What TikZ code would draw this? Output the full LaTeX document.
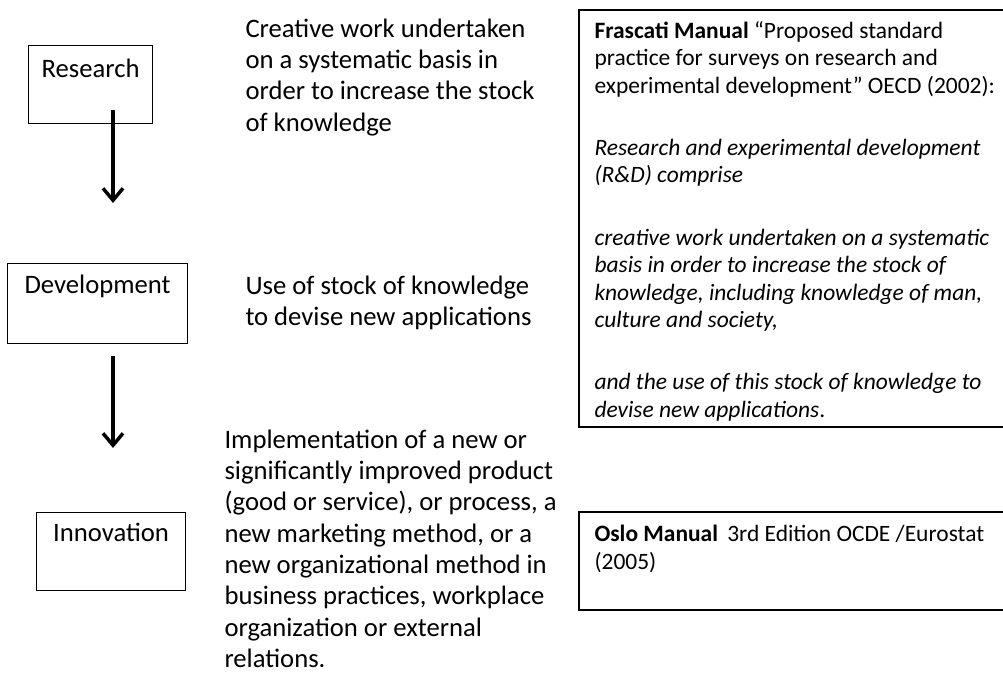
\documentclass[tikz,border=0pt]{standalone}
\usepackage{fontspec}
\setmainfont{Carlito}
\usetikzlibrary{arrows.meta}

\tikzset{every picture/.style={line width=0.75pt}}
\tikzset{
  stage/.style={draw, line width=0.9pt, anchor=north west, inner xsep=0pt, inner ysep=0pt, align=center, font=\fontsize{20}{24}\selectfont},
  desc/.style={anchor=north west, inner sep=0pt, align=left, font=\fontsize{20}{23.5}\selectfont},
  manual/.style={anchor=north west, inner sep=0pt, align=left, font=\fontsize{17.6}{20.6}\selectfont},
  frame/.style={line width=1.3pt},
  flow/.style={line width=3pt, -{Straight Barb[length=9pt,width=15pt,line width=2.6pt]}}
}

\begin{document}
\begin{tikzpicture}[x=0.75pt,y=0.75pt,yscale=-1,xscale=1]
        \useasboundingbox (0,0) rectangle (1003,684);

        %Shape: Rectangle [id:research]
        \node [stage, text width=93pt, text height=24pt, text depth=34.5pt] (research) at (28,45) {Research};
        %Shape: Rectangle [id:development]
        \node [stage, text width=135pt, text height=22.5pt, text depth=37.5pt] (development) at (7,263) {Development};
        %Shape: Rectangle [id:innovation]
        \node [stage, text width=111.75pt, text height=21.75pt, text depth=36.75pt] (innovation) at (36,512) {Innovation};

        %Straight Lines [id:flow1]
        \coordinate (f1a) at (113,110);
        \coordinate (f1b) at (113,203);
        \draw [flow] (f1a) -- (f1b) ;
        %Straight Lines [id:flow2]
        \coordinate (f2a) at (113,356);
        \coordinate (f2b) at (113,448);
        \draw [flow] (f2a) -- (f2b) ;

        % Text Node
        \node [desc] (descres) at (245,18) {Creative work undertaken\\on a systematic basis in\\order to increase the stock\\of knowledge};
        % Text Node
        \node [desc] (descdev) at (245,275) {Use of stock of knowledge\\to devise new applications};
        % Text Node
        \node [desc] (descinn) at (224,429) {Implementation of a new or\\significantly improved product\\(good or service), or process, a\\new marketing method, or a\\new organizational method in\\business practices, workplace\\organization or external\\relations.};

        %Shape: Frame [id:frascati]
        \draw [frame] (1003,10) -- (579,10) -- (579,427) -- (1003,427) ;
        % Text Node
        \node [manual] (frascati) at (594,21) {\textbf{Frascati Manual} “Proposed standard\\practice for surveys on research and\\experimental development” OECD (2002):\\[26pt]
        \textit{Research and experimental development}\\\textit{(R\&D) comprise}\\[26pt]
        \textit{creative work undertaken on a systematic}\\\textit{basis in order to increase the stock of}\\\textit{knowledge, including knowledge of man,}\\\textit{culture and society,}\\[26pt]
        \textit{and the use of this stock of knowledge to}\\\textit{devise new applications}.};

        %Shape: Frame [id:oslo]
        \draw [frame] (1003,512) -- (579,512) -- (579,610) -- (1003,610) ;
        % Text Node
        \node [manual] (oslo) at (594,525) {\textbf{Oslo Manual}\, 3rd Edition OCDE /Eurostat\\(2005)};

\end{tikzpicture}
\end{document}
